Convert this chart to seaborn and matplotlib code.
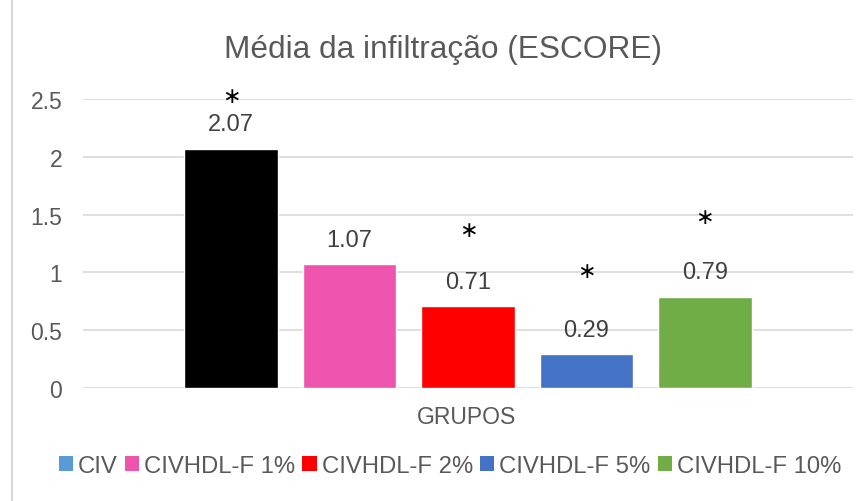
import matplotlib
matplotlib.use("Agg")
import matplotlib.pyplot as plt
from matplotlib.patches import Patch
from matplotlib.lines import Line2D
import seaborn as sns
import pandas as pd

# dados do gráfico
grupos = ["CIV", "CIVHDL-F 1%", "CIVHDL-F 2%", "CIVHDL-F 5%", "CIVHDL-F 10%"]
medias = [2.07, 1.07, 0.71, 0.29, 0.79]
rotulos = ["2.07", "1.07", "0.71", "0.29", "0.79"]
# posição (em unidades do eixo y) dos asteriscos; None = sem asterisco
asteriscos = [2.53, None, 1.37, 1.01, 1.48]
cores_barras = ["#000000", "#EE54AE", "#FF0000", "#4472C4", "#70AD47"]
cores_legenda = ["#5B9BD5", "#EE54AE", "#FF0000", "#4472C4", "#70AD47"]
yticks = [0, 0.5, 1, 1.5, 2, 2.5]
yticklabels = ["0", "0.5", "1", "1.5", "2", "2.5"]

df = pd.DataFrame({"grupo": grupos, "media": medias})

sns.set_style("white")
plt.rcParams["font.family"] = ["Liberation Sans", "DejaVu Sans"]

fig = plt.figure(figsize=(8.68, 5.02), dpi=100)
ax = fig.add_axes([83 / 868, 1 - 389 / 502, (853 - 83) / 868, (389 - 100) / 502])

sns.barplot(data=df, x="grupo", y="media", hue="grupo", palette=cores_barras,
            order=grupos, hue_order=grupos, dodge=False, legend=False,
            width=0.79, saturation=1, ax=ax)

ax.set_xlim(-1.25, 5.25)
ax.set_ylim(0, 2.5)
ax.set_yticks(yticks)
ax.set_yticklabels(yticklabels, fontsize=16.5, color="#595959")
ax.set_xticks([])
ax.tick_params(axis="y", length=0, pad=15)
ax.yaxis.grid(True, color="#D9D9D9", linewidth=1.2)
ax.set_axisbelow(True)
for s in ax.spines.values():
    s.set_visible(False)
ax.set_xlabel("")
ax.set_ylabel("")

for i, (v, r) in enumerate(zip(medias, rotulos)):
    ax.text(i, v + 0.21, r, ha="center", va="center", fontsize=17, color="#404040")
    if asteriscos[i] is not None:
        ax.text(i, asteriscos[i], "\u2217", ha="center", va="center", fontsize=16,
                color="#000000", clip_on=False, family=["DejaVu Sans"])

fig.text(443 / 868, 1 - 50 / 502, "Média da infiltração (ESCORE)", ha="center",
         va="center", fontsize=22.8, color="#595959")
fig.text(467 / 868, 1 - 417 / 502, "GRUPOS", ha="center", va="center",
         fontsize=16.5, color="#595959")

handles = [Patch(facecolor=c, edgecolor="none") for c in cores_legenda]
fig.legend(handles, grupos, loc="center", bbox_to_anchor=(450 / 868, 1 - 467 / 502),
           ncol=5, frameon=False, fontsize=17.2, labelcolor="#595959",
           handlelength=0.6, handleheight=0.6, handletextpad=0.2, columnspacing=0.3)

# borda esquerda da área do gráfico
fig.add_artist(Line2D([12 / 868, 12 / 868], [0, 1], color="#D9D9D9", linewidth=1.5))

fig.savefig("out.png", dpi=100)
